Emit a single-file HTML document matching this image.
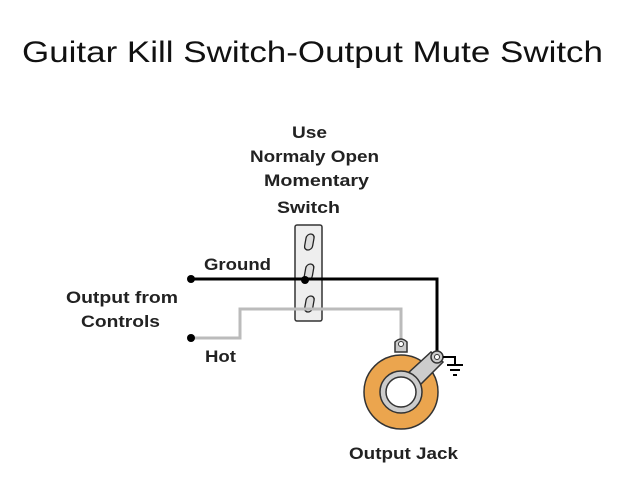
<!DOCTYPE html>
<html><head><style>
body{margin:0;background:#fff;width:640px;height:480px;overflow:hidden}
</style></head><body>
<svg width="640" height="480" xmlns="http://www.w3.org/2000/svg" font-family="Liberation Sans, Arial, sans-serif">
<text x="22" y="62" font-size="30" textLength="581" lengthAdjust="spacingAndGlyphs" fill="#111">Guitar Kill Switch-Output Mute Switch</text>
<g font-size="17" font-weight="bold" fill="#222">
<text x="292" y="138" textLength="35" lengthAdjust="spacingAndGlyphs">Use</text>
<text x="250" y="162" textLength="129" lengthAdjust="spacingAndGlyphs">Normaly Open</text>
<text x="264" y="186" textLength="105" lengthAdjust="spacingAndGlyphs">Momentary</text>
<text x="277" y="213" textLength="63" lengthAdjust="spacingAndGlyphs">Switch</text>
<text x="204" y="270" textLength="67" lengthAdjust="spacingAndGlyphs">Ground</text>
<text x="66" y="303" textLength="112" lengthAdjust="spacingAndGlyphs">Output from</text>
<text x="81" y="327" textLength="79" lengthAdjust="spacingAndGlyphs">Controls</text>
<text x="205" y="362" textLength="31" lengthAdjust="spacingAndGlyphs">Hot</text>
<text x="349" y="459" textLength="109" lengthAdjust="spacingAndGlyphs">Output Jack</text>
</g>
<rect x="295" y="225" width="27" height="96" fill="#eee" stroke="#333" stroke-width="1.5" rx="2"/>
<g fill="#ddd" stroke="#222" stroke-width="1.3">
<rect x="305" y="234" width="8" height="16" rx="4" transform="skewX(-10) translate(43 0)"/>
<rect x="305" y="264" width="8" height="16" rx="4" transform="skewX(-10) translate(48 0)"/>
<rect x="305" y="296" width="8" height="16" rx="4" transform="skewX(-10) translate(54 0)"/>
</g>
<polyline points="191,338 240,338 240,309 401,309 401,340" fill="none" stroke="#bbb" stroke-width="3"/>
<polyline points="191,279 437,279 437,357" fill="none" stroke="#000" stroke-width="3"/>
<circle cx="191" cy="279" r="4" fill="#000"/>
<circle cx="191" cy="338" r="4" fill="#000"/>
<circle cx="305" cy="280" r="4" fill="#000"/>
<circle cx="401" cy="392" r="37" fill="#eba54e" stroke="#333" stroke-width="1.5"/>
<path d="M395,352 L395,342 Q401,336 407,342 L407,352 Z" fill="#ccc" stroke="#333" stroke-width="1.5"/>
<circle cx="401" cy="344" r="2.5" fill="#fff" stroke="#333"/>
<path d="M431,352 L443,362 L410,395 L395,385 Z" fill="#ccc" stroke="#333" stroke-width="1.5"/>
<circle cx="437" cy="357" r="6" fill="#ccc" stroke="#333" stroke-width="1.5"/>
<circle cx="437" cy="357" r="2.5" fill="#fff" stroke="#333"/>
<circle cx="401" cy="392" r="21" fill="#ccc" stroke="#333" stroke-width="1.5"/>
<circle cx="401" cy="392" r="15" fill="#fff" stroke="#333" stroke-width="1.5"/>
<polyline points="443,357 455,357 455,365" fill="none" stroke="#000" stroke-width="2"/>
<line x1="447" y1="365" x2="463" y2="365" stroke="#000" stroke-width="2"/>
<line x1="450" y1="370" x2="460" y2="370" stroke="#000" stroke-width="2"/>
<line x1="453" y1="375" x2="457" y2="375" stroke="#000" stroke-width="2"/>
</svg>
</body></html>
